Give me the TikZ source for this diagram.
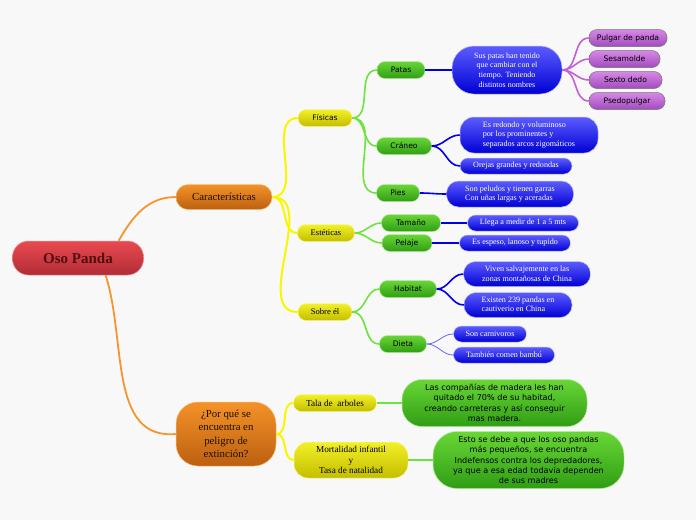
\documentclass[tikz,border=0pt]{standalone}
\usepackage{fontspec}
\setmainfont{Liberation Serif}
\newfontfamily\mapsans{DejaVu Sans}
\usepackage{tikz}
\usetikzlibrary{positioning}
\usepackage{xcolor}
\definecolor{mapbg}{RGB}{248,248,248}
\definecolor{pandared}{RGB}{234,74,80}
\definecolor{pandareddark}{RGB}{176,44,54}
\definecolor{pandatext}{RGB}{80,16,16}
\definecolor{pandaorange}{RGB}{244,146,40}
\definecolor{pandaorangedark}{RGB}{188,96,16}
\definecolor{pandayellow}{RGB}{242,240,40}
\definecolor{pandayellowdark}{RGB}{196,190,0}
\definecolor{pandagreen}{RGB}{104,214,54}
\definecolor{pandagreendark}{RGB}{48,158,20}
\definecolor{pandablue}{RGB}{92,92,255}
\definecolor{pandabluedark}{RGB}{0,0,212}
\definecolor{pandapurple}{RGB}{216,136,230}
\definecolor{pandapurpledark}{RGB}{160,76,190}
\definecolor{linkorange}{RGB}{245,150,45}
\definecolor{linkyellow}{RGB}{250,246,0}
\definecolor{linkgreen}{RGB}{112,226,62}
\definecolor{linkblue}{RGB}{0,0,230}
\definecolor{linkpurple}{RGB}{196,96,214}

\begin{document}
\begin{tikzpicture}[x=1pt,y=1pt,
  mapbox/.style={rounded corners=8pt,inner sep=1pt,align=center,line width=0.5pt},
  rootbox/.style={mapbox,top color=pandared,bottom color=pandareddark,draw=pandared!60!white,
    rounded corners=16pt,text=pandatext,font=\fontsize{15}{17}\selectfont\bfseries},
  branchbox/.style={mapbox,top color=pandaorange,bottom color=pandaorangedark,draw=pandaorange!60!white,
    text=black!85!pandaorangedark},
  catbox/.style={mapbox,top color=pandayellow,bottom color=pandayellowdark,draw=pandayellow!50!white,
    minimum height=17pt},
  topicbox/.style={mapbox,top color=pandagreen,bottom color=pandagreendark,draw=pandagreen!50!white,
    minimum height=17pt,font=\mapsans\fontsize{7.6}{9}\selectfont},
  notebox/.style={mapbox,top color=pandablue,bottom color=pandabluedark,draw=pandablue!40!white,
    minimum height=16pt,text=white,font=\fontsize{8.1}{9.6}\selectfont},
  namebox/.style={mapbox,top color=pandapurple,bottom color=pandapurpledark,draw=black!55,
    minimum height=17pt,font=\mapsans\fontsize{7.6}{9}\selectfont},
  factbox/.style={mapbox,top color=pandagreen,bottom color=pandagreendark,draw=pandagreen!50!white,
    rounded corners=20pt,font=\mapsans\fontsize{8.1}{10.4}\selectfont},
  orangelink/.style={linkorange,line width=1.8pt},
  yellowlink/.style={linkyellow,line width=2pt},
  greenlink/.style={linkgreen,line width=1.6pt},
  bluelink/.style={linkblue,line width=1.6pt},
  purplelink/.style={linkpurple,line width=1.6pt},
  thinlink/.style={linkblue!60!white,line width=0.8pt}]
% background and page size
\fill[mapbg] (0,0) rectangle (696,-520);

% root and main branches
\node[rootbox,minimum width=131pt,minimum height=34pt] (panda) at (78,-258) {Oso Panda};
\node[branchbox,minimum width=96pt,minimum height=25pt,rounded corners=12pt,
  font=\fontsize{10.8}{12}\selectfont] (char) at (224,-197) {Características};
\node[branchbox,minimum width=100pt,minimum height=64pt,rounded corners=22pt,
  font=\fontsize{10.8}{13.4}\selectfont] (why) at (226,-434) {¿Por qué se\\encuentra en\\peligro de\\extinción?};

% categories
\node[catbox,minimum width=54pt,font=\mapsans\fontsize{7.6}{9}\selectfont] (fis) at (325,-118) {Físicas};
\node[catbox,minimum width=57pt,font=\fontsize{8.6}{9}\selectfont] (est) at (326,-233) {Estéticas};
\node[catbox,minimum width=54pt,font=\fontsize{8.6}{9}\selectfont] (sob) at (325,-312) {Sobre él};
\node[catbox,minimum width=83pt,font=\fontsize{9.2}{10}\selectfont] (tala) at (335,-403) {Tala de\ \ arboles};
\node[catbox,minimum width=114pt,minimum height=36pt,rounded corners=14pt,
  font=\fontsize{9.2}{10.6}\selectfont] (mortal) at (351,-460) {Mortalidad infantil\\y\\Tasa de natalidad};

% topics
\node[topicbox,minimum width=48pt] (patas) at (401,-70) {Patas};
\node[topicbox,minimum width=55pt] (craneo) at (404,-146) {Cráneo};
\node[topicbox,minimum width=43pt] (pies) at (398,-193) {Pies};
\node[topicbox,minimum width=59pt] (tamano) at (411,-223) {Tamaño};
\node[topicbox,minimum width=50pt] (pelaje) at (407,-243) {Pelaje};
\node[topicbox,minimum width=57pt] (habitat) at (408,-289) {Habitat};
\node[topicbox,minimum width=47pt] (dieta) at (403,-344) {Dieta};

% notes
\node[notebox,minimum width=110pt,minimum height=48pt,rounded corners=22pt,
  font=\fontsize{8}{9.8}\selectfont] (suspatas) at (507,-70)
  {Sus patas han tenido\\que cambiar con el\\tiempo. Teniendo\\distintos nombres};
\node[notebox,minimum width=138pt,minimum height=36pt,rounded corners=14pt] (redondo) at (529,-135)
  {\begin{tabular}{@{}l@{}}Es redondo y voluminoso\\por los prominentes y\\separados arcos zigomáticos\end{tabular}};
\node[notebox,minimum width=112pt] (orejas) at (516,-166) {Orejas grandes y redondas};
\node[notebox,minimum width=127pt,minimum height=26pt,rounded corners=12pt] (peludos) at (510,-194)
  {\begin{tabular}{@{}l@{}}Son peludos y tienen garras\\Con uñas largas y aceradas\end{tabular}};
\node[notebox,minimum width=111pt] (llega) at (523,-223) {Llega a medir de 1 a 5 mts};
\node[notebox,minimum width=111pt] (espeso) at (515,-243) {Es espeso, lanoso y tupido};
\node[notebox,minimum width=127pt,minimum height=25pt,rounded corners=12pt] (viven) at (527,-274)
  {Viven salvajemente en las\\zonas montañosas de China};
\node[notebox,minimum width=108pt,minimum height=25pt,rounded corners=12pt] (existen) at (518,-305)
  {\begin{tabular}{@{}l@{}}Existen 239 pandas en\\cautiverio en China\end{tabular}};
\node[notebox,minimum width=73pt] (carnivoros) at (490,-334) {Son carnivoros};
\node[notebox,minimum width=101pt] (bambu) at (504,-355) {También comen bambú};

% names of the thumb
\node[namebox,minimum width=78pt] (pulgar) at (628,-38) {Pulgar de panda};
\node[namebox,minimum width=71pt] (sesamolde) at (624.5,-59) {Sesamolde};
\node[namebox,minimum width=73pt] (sexto) at (625.5,-80) {Sexto dedo};
\node[namebox,minimum width=76pt] (psedo) at (627,-101) {Psedopulgar};

% facts about extinction
\node[factbox,minimum width=185pt,minimum height=47pt] (companias) at (494.5,-403)
  {Las compañías de madera les han\\quitado el 70\% de su habitad,\\creando carreteras y así conseguir\\mas madera.};
\node[factbox,minimum width=191pt,minimum height=57pt,rounded corners=24pt] (esto) at (528.5,-460)
  {Esto se debe a que los oso pandas\\más pequeños, se encuentra\\Indefensos contra los depredadores,\\ya que a esa edad todavía dependen\\de sus madres};

% connectors
\draw[orangelink] (panda.23) to[out=60,in=180] (char.west);
\draw[orangelink] (panda.-32) to[out=-72,in=185] (why.west);
\foreach \a/\b in {char/fis, char/est, char/sob, why/tala, why/mortal} {
  \draw[yellowlink] (\a.east) to[out=0,in=180] (\b.west);
}
\foreach \a/\b in {fis/patas, fis/craneo, fis/pies, est/tamano, est/pelaje, sob/habitat, sob/dieta, tala/companias, mortal/esto} {
  \draw[greenlink] (\a.east) to[out=0,in=180] (\b.west);
}
\foreach \a/\b in {patas/suspatas, craneo/redondo, craneo/orejas, pies/peludos, tamano/llega, pelaje/espeso, habitat/viven, habitat/existen} {
  \draw[bluelink] (\a.east) to[out=0,in=180] (\b.west);
}
\foreach \b in {pulgar, sesamolde, sexto, psedo} {
  \draw[purplelink] (suspatas.east) to[out=0,in=180] (\b.west);
}
\foreach \b in {carnivoros, bambu} {
  \draw[thinlink] (dieta.east) to[out=0,in=180] (\b.west);
}
\end{tikzpicture}
\end{document}
